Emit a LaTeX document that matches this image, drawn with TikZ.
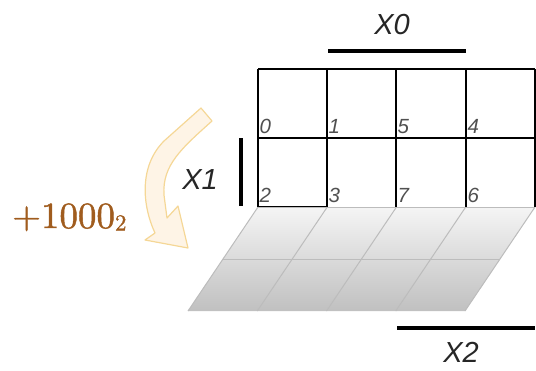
\documentclass[tikz,border=0pt]{standalone}
\usepackage{fontspec}
\newfontfamily\arialf{Liberation Sans}
\newfontfamily\lmten{lmroman10-regular}[Extension=.otf, FakeBold=1.2]
\usetikzlibrary{calc}
\definecolor{brownlbl}{RGB}{160,92,30}
\definecolor{arrfill}{RGB}{254,244,230}
\definecolor{arrdraw}{RGB}{245,215,150}
\definecolor{planetop}{RGB}{245,245,245}
\definecolor{planebot}{RGB}{192,192,192}
\definecolor{planeline}{RGB}{188,188,188}
\definecolor{cellnum}{RGB}{80,80,80}
\tikzset{
  varlbl/.style={font=\arialf\itshape\fontsize{29}{32}\selectfont, text=black!85, inner sep=0pt},
  cellnumlbl/.style={font=\arialf\itshape\fontsize{20.5}{22}\selectfont, text=cellnum, inner sep=0pt, anchor=base west},
  gridline/.style={line width=1.4pt, black},
  varbar/.style={line width=4pt, black},
  planegrid/.style={line width=1pt, planeline}
}
\begin{document}
\begin{tikzpicture}[x=1pt,y=-1pt]
\useasboundingbox (0,0) rectangle (536,370);
% slanted plane
\shade[top color=planetop, bottom color=planebot]
  (258,207) -- (535,207) -- (465,311) -- (188,311) -- cycle;
\draw[planegrid] (535,207) -- (465,311);
\draw[planegrid] (258,207) -- (188,311);
\foreach \i in {1,2,3} {
  \draw[planegrid] ($(258,207)+(\i*69.25,0)$) -- ($(188,311)+(\i*69.25,0)$);
}
\draw[planegrid] (223,259) -- (500,259);
\draw[planegrid] (258,207) -- (535,207);
% grid
\foreach \x in {258,327,396,466,535} { \draw[gridline] (\x,69) -- (\x,206.5); }
\draw[gridline] (258,69) -- (535,69);
\draw[gridline] (258,138) -- (535,138);
\draw[gridline] (258,206.5) -- (327,206.5);
% cell numbers
\node[cellnumlbl] (c0) at (259.5,133) {0};
\node[cellnumlbl] (c1) at (328.5,133) {1};
\node[cellnumlbl] (c5) at (397.5,133) {5};
\node[cellnumlbl] (c4) at (467.5,133) {4};
\node[cellnumlbl] (c2) at (259.5,202) {2};
\node[cellnumlbl] (c3) at (328.5,202) {3};
\node[cellnumlbl] (c7) at (397.5,202) {7};
\node[cellnumlbl] (c6) at (467.5,202) {6};
% variable bars
\coordinate (x0a) at (328,51); \coordinate (x0b) at (466,51);
\draw[varbar] (x0a) -- (x0b);
\coordinate (x2a) at (397,328); \coordinate (x2b) at (535,328);
\draw[varbar] (x2a) -- (x2b);
\coordinate (x1a) at (241,138); \coordinate (x1b) at (241,206);
\draw[varbar] (x1a) -- (x1b);
\node[varlbl] (X0) at (392,25) {X0};
\node[varlbl] (X1) at (200,180) {X1};
\node[varlbl] (X2) at (461,352) {X2};
% curved arrow
\draw[fill=arrfill, draw=arrdraw, line width=1.2pt, line join=round]
  (201,108) -- (212,121)
  .. controls (182,148) and (162,165) .. (164,195)
  -- (167,218) -- (178,206) -- (188,248) -- (145,240) -- (155,233)
  .. controls (142,205) and (139,166) .. (164,141) -- cycle;
\node[anchor=base west, inner sep=0pt, text=brownlbl] (inc) at (12,228)
  {\lmten\fontsize{37}{42}\selectfont +1000\raisebox{-2.5pt}{\fontsize{23}{26}\selectfont 2}};
\end{tikzpicture}
\end{document}
